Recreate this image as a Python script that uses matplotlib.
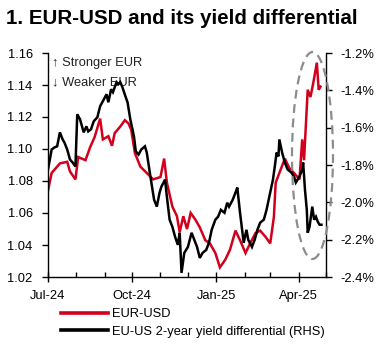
import matplotlib
matplotlib.use("Agg")
import matplotlib.pyplot as plt
import matplotlib.dates as mdates
from matplotlib.patches import Ellipse
from matplotlib.ticker import FuncFormatter, FixedLocator
from matplotlib.lines import Line2D
import pandas as pd

plt.rcParams['font.family'] = ['Liberation Sans', 'DejaVu Sans']
plt.rcParams['axes.unicode_minus'] = False

title = "1. EUR-USD and its yield differential"
label_fx = "EUR-USD"
label_yd = "EU-US 2-year yield differential (RHS)"
note_up = "\u2191 Stronger EUR"
note_down = "\u2193 Weaker EUR"

fx_dates = ["2024-07-01", "2024-07-05", "2024-07-14", "2024-07-22", "2024-07-25", "2024-07-31",
            "2024-08-03", "2024-08-11", "2024-08-16", "2024-08-21", "2024-08-27", "2024-08-30",
            "2024-09-05", "2024-09-09", "2024-09-12", "2024-09-18", "2024-09-23", "2024-09-27",
            "2024-09-30", "2024-10-04", "2024-10-10", "2024-10-17", "2024-10-24", "2024-11-01",
            "2024-11-05", "2024-11-08", "2024-11-14", "2024-11-19", "2024-11-22", "2024-11-26",
            "2024-11-30", "2024-12-04", "2024-12-09", "2024-12-14", "2024-12-20", "2024-12-25",
            "2024-12-31", "2025-01-05", "2025-01-11", "2025-01-16", "2025-01-22", "2025-01-27",
            "2025-02-02", "2025-02-07", "2025-02-13", "2025-02-18", "2025-02-24", "2025-03-01",
            "2025-03-05", "2025-03-07", "2025-03-11", "2025-03-17", "2025-03-22", "2025-03-27",
            "2025-04-02", "2025-04-05", "2025-04-07", "2025-04-11", "2025-04-14", "2025-04-17",
            "2025-04-21", "2025-04-23", "2025-04-25"]
fx_values = [1.074, 1.085, 1.091, 1.092, 1.086, 1.081,
             1.095, 1.093, 1.101, 1.1075, 1.119, 1.106,
             1.108, 1.102, 1.110, 1.114, 1.118, 1.116,
             1.112, 1.0975, 1.089, 1.085, 1.081, 1.0825,
             1.094, 1.079, 1.064, 1.058, 1.048, 1.058,
             1.050, 1.060, 1.056, 1.051, 1.043, 1.041,
             1.035, 1.026, 1.031, 1.037, 1.049, 1.043,
             1.035, 1.041, 1.0475, 1.049, 1.045, 1.041,
             1.0575, 1.079, 1.085, 1.094, 1.088, 1.085,
             1.081, 1.106, 1.093, 1.137, 1.1325, 1.141,
             1.154, 1.137, 1.139]

yd_dates = ["2024-07-01", "2024-07-05", "2024-07-08", "2024-07-11", "2024-07-14", "2024-07-17",
            "2024-07-19", "2024-07-22", "2024-07-25", "2024-07-28", "2024-07-31", "2024-08-02",
            "2024-08-05", "2024-08-09", "2024-08-12", "2024-08-14", "2024-08-17", "2024-08-20",
            "2024-08-24", "2024-08-27", "2024-08-30", "2024-09-03", "2024-09-05", "2024-09-08",
            "2024-09-10", "2024-09-14", "2024-09-16", "2024-09-18", "2024-09-20", "2024-09-24",
            "2024-09-26", "2024-09-29", "2024-10-03", "2024-10-05", "2024-10-08", "2024-10-11",
            "2024-10-15", "2024-10-17", "2024-10-21", "2024-10-25", "2024-10-28", "2024-10-31",
            "2024-11-02", "2024-11-06", "2024-11-08", "2024-11-11", "2024-11-14", "2024-11-17",
            "2024-11-20", "2024-11-22", "2024-11-24", "2024-11-27", "2024-12-01", "2024-12-05",
            "2024-12-08", "2024-12-11", "2024-12-14", "2024-12-17", "2024-12-21", "2024-12-24",
            "2024-12-27", "2024-12-31", "2025-01-03", "2025-01-06", "2025-01-10", "2025-01-13",
            "2025-01-15", "2025-01-19", "2025-01-22", "2025-01-24", "2025-01-27", "2025-01-31",
            "2025-02-03", "2025-02-05", "2025-02-09", "2025-02-12", "2025-02-15", "2025-02-18",
            "2025-02-22", "2025-02-25", "2025-02-28", "2025-03-04", "2025-03-06", "2025-03-08",
            "2025-03-10", "2025-03-11", "2025-03-14", "2025-03-17", "2025-03-20", "2025-03-24",
            "2025-03-27", "2025-03-29", "2025-04-02", "2025-04-05", "2025-04-06", "2025-04-08",
            "2025-04-10", "2025-04-11", "2025-04-13", "2025-04-16", "2025-04-18", "2025-04-20",
            "2025-04-22", "2025-04-24", "2025-04-26"]
yd_values = [-1.824, -1.717, -1.706, -1.700, -1.625, -1.663,
             -1.680, -1.717, -1.770, -1.787, -1.808, -1.528,
             -1.555, -1.625, -1.593, -1.620, -1.609, -1.566,
             -1.544, -1.485, -1.458, -1.421, -1.464, -1.394,
             -1.410, -1.356, -1.367, -1.356, -1.378, -1.437,
             -1.464, -1.555, -1.647, -1.727, -1.744, -1.717,
             -1.700, -1.733, -1.862, -1.986, -2.023, -1.948,
             -1.916, -1.878, -1.970, -2.093, -2.131, -2.185,
             -2.228, -2.163, -2.378, -2.271, -2.239, -2.163,
             -2.201, -2.239, -2.298, -2.271, -2.255, -2.217,
             -2.147, -2.093, -2.077, -2.040, -2.056, -2.002,
             -2.023, -1.986, -1.948, -1.921, -2.056, -2.217,
             -2.147, -2.201, -2.239, -2.201, -2.147, -2.109,
             -2.093, -2.040, -1.970, -1.878, -1.808, -1.733,
             -1.754, -1.663, -1.733, -1.787, -1.824, -1.840,
             -1.862, -1.894, -1.862, -1.824, -1.787, -1.932,
             -2.040, -2.163, -2.131, -2.023, -2.093, -2.077,
             -2.104, -2.120, -2.120]

left_ticks = [1.02, 1.04, 1.06, 1.08, 1.10, 1.12, 1.14, 1.16]
right_ticks = [-2.4, -2.2, -2.0, -1.8, -1.6, -1.4, -1.2]
x_start, x_end = "2024-07-01", "2025-05-01"

RED = "#d2001c"
FS = 9.3
W, H = 379, 345
fig = plt.figure(figsize=(W / 100, H / 100), dpi=100)
ax = fig.add_axes([48 / W, 1 - 277 / H, (326 - 48) / W, (277 - 53) / H])
ax2 = ax.twinx()

fx_d = pd.to_datetime(fx_dates)
yd_d = pd.to_datetime(yd_dates)
ax.plot(fx_d, fx_values, color=RED, lw=1.8, solid_joinstyle='miter')
ax2.plot(yd_d, yd_values, color="black", lw=1.8, solid_joinstyle='miter')

ax.set_xlim(pd.Timestamp(x_start), pd.Timestamp(x_end))
ax.set_ylim(left_ticks[0], left_ticks[-1])
ax2.set_ylim(right_ticks[0], right_ticks[-1])
ax.yaxis.set_major_locator(FixedLocator(left_ticks))
ax.yaxis.set_major_formatter(FuncFormatter(lambda v, p: f"{v:.2f}"))
ax2.yaxis.set_major_locator(FixedLocator(right_ticks))
ax2.yaxis.set_major_formatter(FuncFormatter(lambda v, p: f"{v:.1f}%"))

ax.xaxis.set_major_locator(mdates.MonthLocator(bymonth=[1, 4, 7, 10]))
ax.xaxis.set_minor_locator(mdates.MonthLocator())
ax.xaxis.set_major_formatter(mdates.DateFormatter("%b-%y"))

for a in (ax, ax2):
    a.spines['top'].set_visible(False)
    for s in a.spines.values():
        s.set_linewidth(1.0)
ax.spines['right'].set_visible(False)
ax2.spines['left'].set_visible(False)
ax2.spines['bottom'].set_visible(False)

ax.tick_params(axis='y', direction='out', length=4, width=1, labelsize=FS, pad=7)
ax2.tick_params(axis='y', direction='out', length=4, width=1, labelsize=FS, pad=6)
ax.tick_params(axis='x', which='major', direction='inout', length=7, width=1, labelsize=FS, pad=6)
ax.tick_params(axis='x', which='minor', direction='in', length=3.5, width=1)

ax.text(0.014, 0.955, note_up, transform=ax.transAxes, fontsize=FS, va='center', ha='left', color='#222222')
ax.text(0.014, 0.87, note_down, transform=ax.transAxes, fontsize=FS, va='center', ha='left', color='#222222')

ell = Ellipse((312.5 / W, 1 - 155.5 / H), 41 / W, 207 / H, transform=fig.transFigure,
              fill=False, edgecolor='#8c8c8c', lw=1.6, linestyle=(0, (4, 2.5)))
fig.add_artist(ell)

fig.text(6 / W, 1 - 19 / H, title, fontsize=14.8, fontweight='bold', va='center', ha='left')

handles = [Line2D([], [], color=RED, lw=2.6), Line2D([], [], color='black', lw=2.6)]
fig.legend(handles, [label_fx, label_yd], loc='upper left', bbox_to_anchor=(61 / W, 1 - 308 / H),
           frameon=False, fontsize=FS, handlelength=3.6, handletextpad=0.35, labelspacing=0.45,
           borderpad=0, borderaxespad=0)

fig.savefig("out.png", dpi=100)
